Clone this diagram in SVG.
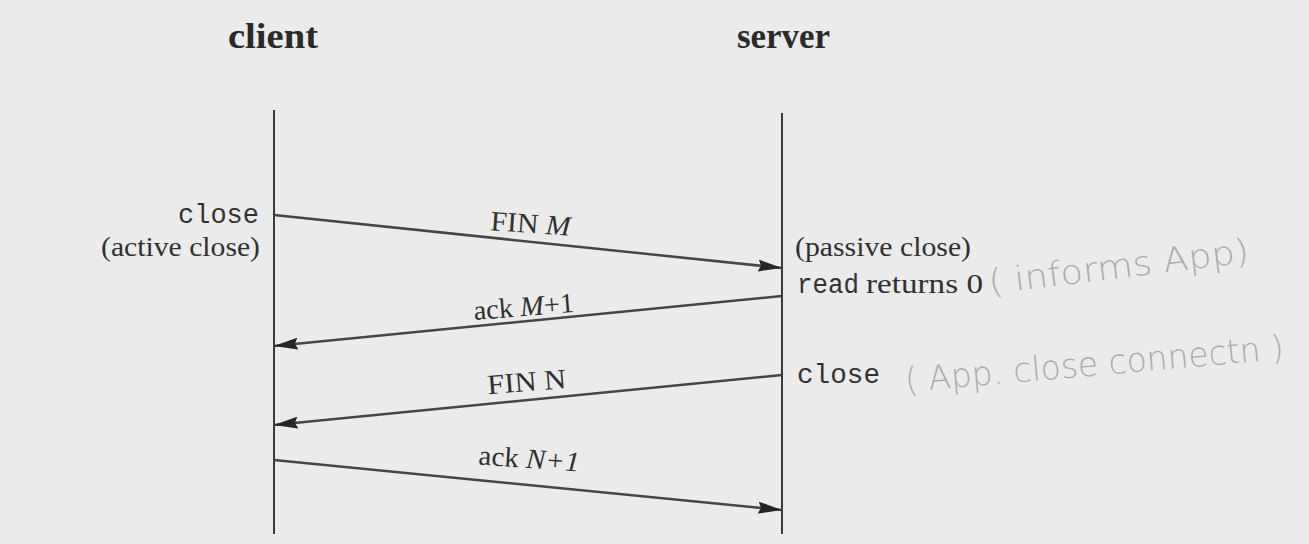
<svg xmlns="http://www.w3.org/2000/svg" width="1309" height="544" viewBox="0 0 1309 544">
<style>
.hdr{font-family:"Liberation Serif","DejaVu Serif",serif;font-weight:bold;font-size:36px;fill:#2a2a2a}
.ser{font-family:"Liberation Serif","DejaVu Serif",serif;font-size:28px;fill:#303030}
.mono{font-family:"Liberation Mono","DejaVu Sans Mono",monospace;font-size:27px;fill:#333}
.it{font-style:italic}
.life{stroke:#3a3a3a;stroke-width:2;fill:none}
.msg{stroke:#454545;stroke-width:2.5;fill:none}
.hand{font-family:"DejaVu Sans","Liberation Sans",sans-serif;font-size:34px;fill:#acacac;font-weight:200}
</style>
<defs>
<marker id="ah" viewBox="0 0 24 12" refX="24" refY="6" markerWidth="24" markerHeight="12" markerUnits="userSpaceOnUse" orient="auto">
<path d="M0,0 L24,6 L0,12 L3,6 Z" fill="#262626"/>
</marker>
</defs>
<rect x="0" y="0" width="1309" height="544" fill="#ebebeb"/>
<g id="client">
<text class="hdr" x="228" y="48" textLength="90" lengthAdjust="spacingAndGlyphs">client</text>
<line class="life" x1="274" y1="110" x2="274" y2="534"/>
<text class="mono" x="259" y="223" text-anchor="end">close</text>
<text class="ser" x="101" y="256" textLength="159" lengthAdjust="spacingAndGlyphs">(active close)</text>
</g>
<g id="server">
<text class="hdr" x="737" y="48" textLength="93" lengthAdjust="spacingAndGlyphs">server</text>
<line class="life" x1="782" y1="113" x2="782" y2="534"/>
<text class="ser" x="795" y="256" textLength="176" lengthAdjust="spacingAndGlyphs">(passive close)</text>
<text class="mono" x="797" y="293" textLength="62" lengthAdjust="spacingAndGlyphs">read</text>
<text class="ser" x="866" y="293" textLength="117" lengthAdjust="spacingAndGlyphs">returns 0</text>
<text class="mono" x="797" y="383" textLength="83" lengthAdjust="spacingAndGlyphs">close</text>
</g>
<g id="notes">
<text class="hand" x="990" y="294" transform="rotate(-7 990 294)" textLength="262" lengthAdjust="spacingAndGlyphs">( informs App)</text>
<text class="hand" x="906" y="392" transform="rotate(-5 906 392)" textLength="380" lengthAdjust="spacingAndGlyphs">( App. close connectn )</text>
</g>
<g id="connectors">
<line class="msg" x1="274" y1="215" x2="782" y2="268" marker-end="url(#ah)"/>
<line class="msg" x1="782" y1="296" x2="274" y2="346" marker-end="url(#ah)"/>
<line class="msg" x1="782" y1="375" x2="274" y2="425" marker-end="url(#ah)"/>
<line class="msg" x1="274" y1="460" x2="782" y2="510" marker-end="url(#ah)"/>
</g>
<g id="labels">
<text class="ser" x="490" y="233" transform="rotate(4 530 233)" textLength="80" lengthAdjust="spacingAndGlyphs">FIN <tspan class="it">M</tspan></text>
<text class="ser" x="474" y="316" transform="rotate(-4.5 524 316)" textLength="101" lengthAdjust="spacingAndGlyphs">ack <tspan class="it">M</tspan>+1</text>
<text class="ser" x="488" y="391" transform="rotate(-4.5 528 391)" textLength="79" lengthAdjust="spacingAndGlyphs">FIN N</text>
<text class="ser" x="478" y="468" transform="rotate(4 528 468)" textLength="101" lengthAdjust="spacingAndGlyphs">ack <tspan class="it">N+1</tspan></text>
</g>
</svg>
